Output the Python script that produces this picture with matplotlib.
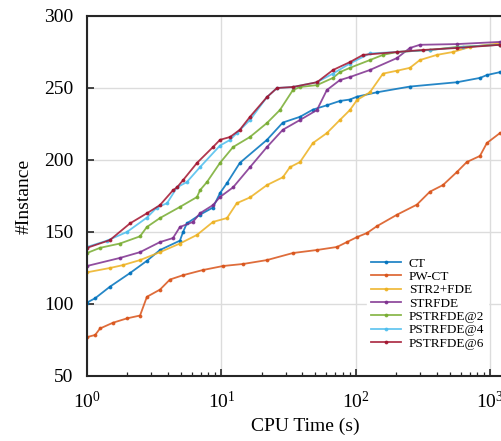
import matplotlib
matplotlib.use("Agg")
import matplotlib.pyplot as plt
from matplotlib.ticker import LogLocator, NullFormatter

# solved-instance curves (CPU seconds, #instances)
ct_t = [1, 1.15, 1.48, 2.09, 2.79, 3.49, 4.91, 5.18, 5.53, 6.92, 8.65, 9.75, 11.0, 13.7,
        21.8, 28.6, 38.4, 47.9, 60.8, 76.0, 90.2, 102, 143, 252, 564, 836, 942, 1178]
ct_n = [101, 104, 112, 121.5, 130, 137.5, 144, 150, 156, 162, 167, 177, 184, 198,
        214, 226, 230, 235, 238, 241, 242, 244, 247, 251, 254, 257, 259, 261]

pwct_t = [1, 1.15, 1.25, 1.56, 1.98, 2.48, 2.79, 3.49, 4.14, 5.18, 7.28, 10.3, 14.5, 21.8,
          34.0, 51.3, 72.3, 85.7, 102, 121, 143, 202, 284, 355, 444, 564, 668, 836, 942, 1178]
pwct_n = [77, 78.5, 83, 87, 90, 92, 105, 110, 117, 120, 123.6, 126.4, 127.8, 130.5,
          135.4, 137.5, 139.6, 143, 146.5, 149.3, 154, 162, 169, 178, 182.6, 191.7, 198.6,
          202.8, 211.8, 218.7]

str2_t = [1, 1.48, 1.85, 2.48, 3.49, 4.91, 6.58, 8.65, 11.0, 13.0, 16.3, 21.8, 28.6, 32.3,
          38.4, 47.9, 60.8, 76.0, 90.2, 102, 127, 159, 202, 252, 299, 400, 526, 705, 1178]
str2_n = [122, 125, 127, 130.5, 136, 142, 148, 157, 159.7, 170, 174, 182.6, 188, 195,
          198.6, 211.8, 218.7, 227.8, 234.7, 241.7, 247, 260, 262, 264, 269.4, 273, 275,
          278.5, 281]

strfde_t = [1, 1.76, 2.48, 3.49, 4.36, 4.91, 6.14, 6.92, 8.65, 9.75, 12.2, 16.3, 21.8,
            28.6, 38.4, 51.3, 60.8, 76.0, 90.2, 127, 202, 252, 299, 564, 1178]
strfde_n = [126.4, 132, 136, 143, 145.8, 153.5, 157, 163, 168.7, 174.3, 181, 195, 209,
            221, 227.8, 234.7, 248.6, 255.5, 257.6, 262.5, 270.8, 277.8, 280, 280.5, 282]

p2_t = [1, 1.25, 1.76, 2.48, 2.79, 3.49, 4.91, 6.58, 6.92, 7.80, 9.75, 12.2, 16.3, 21.8,
        27.2, 34.0, 38.4, 51.3, 67.5, 76.0, 90.2, 127, 159, 202, 355, 564, 1178]
p2_n = [135.4, 139, 142, 147, 153.5, 159.7, 167.4, 174.3, 179, 184.7, 198, 209, 216, 225.7,
        234.7, 248.6, 250.7, 252, 257, 261, 264, 269.4, 273, 275, 276.4, 278.5, 280]

p4_t = [1, 1.41, 1.98, 2.79, 3.31, 3.94, 4.67, 5.53, 6.92, 9.75, 11.6, 13.0, 16.3, 21.8,
        25.9, 34.0, 51.3, 67.5, 90.2, 127, 202, 355, 625, 1178]
p4_n = [139.6, 144, 150, 160, 167, 170, 181, 184.7, 195, 210, 214, 218.7, 227.8, 243.7,
        250, 250.7, 254, 260, 267, 274, 275, 276.4, 278.5, 280]

p6_t = [1, 1.48, 2.09, 2.79, 3.49, 4.36, 4.67, 5.18, 6.58, 8.65, 9.75, 11.6, 13.7, 16.3,
        21.8, 25.9, 34.0, 51.3, 67.5, 90.2, 113, 202, 315, 564, 1178]
p6_n = [139, 144.4, 156, 163, 168.7, 179, 181, 186, 198, 209, 214, 216, 221, 230,
        243.7, 250, 250.7, 254, 262.5, 268, 273, 275, 276.4, 277.8, 280]

labels = ["CT", "PW-CT", "STR2+FDE", "STRFDE", "PSTRFDE@2", "PSTRFDE@4", "PSTRFDE@6"]
times = [ct_t, pwct_t, str2_t, strfde_t, p2_t, p4_t, p6_t]
counts = [ct_n, pwct_n, str2_n, strfde_n, p2_n, p4_n, p6_n]
colors = ["#0072BD", "#D95319", "#EDB120", "#7E2F8E", "#77AC30", "#4DBEEE", "#A2142F"]

plt.rcParams["font.family"] = ["Liberation Serif", "DejaVu Serif"]
plt.rcParams["mathtext.fontset"] = "stix"

fig = plt.figure(figsize=(5.01, 4.41), dpi=100)
ax = fig.add_axes([87 / 501, 65 / 441, 437 / 501, 360 / 441])

for t, n, c, lab in zip(times, counts, colors, labels):
    ax.plot(t, n, color=c, lw=1.3, marker=".", ms=3.5, alpha=0.85, label=lab)

ax.set_xscale("log")
ax.set_xlim(1, 10 ** 3.25)
ax.set_ylim(50, 300)
ax.set_yticks([50, 100, 150, 200, 250, 300])
ax.xaxis.set_major_locator(LogLocator(base=10, numticks=10))
ax.xaxis.set_minor_locator(LogLocator(base=10, subs=range(2, 10), numticks=20))
ax.xaxis.set_minor_formatter(NullFormatter())

ax.grid(True, which="major", color="#dcdcdc", lw=1.0)
ax.set_axisbelow(True)
ax.tick_params(axis="both", which="both", direction="in", labelsize=14, color="#262626")
ax.tick_params(axis="both", which="major", length=5, width=1.2)
ax.tick_params(axis="x", which="minor", length=3, width=0.9)
ax.tick_params(axis="x", which="both", pad=11, top=False)
ax.tick_params(axis="y", which="both", pad=10, right=False)
for side in ["left", "bottom", "top"]:
    ax.spines[side].set_color("#262626")
    ax.spines[side].set_linewidth(1.5)
ax.spines["right"].set_visible(False)

ax.set_xlabel("CPU Time (s)", fontsize=14, labelpad=4)
ax.set_ylabel("#Instance", fontsize=14, labelpad=8)

ax.legend(loc="upper left", bbox_to_anchor=(360 / 501, 1 - 247 / 441),
          bbox_transform=fig.transFigure, fontsize=9.5, frameon=True,
          edgecolor="white", facecolor="white", framealpha=1.0, fancybox=False,
          handlelength=2.3, handletextpad=0.6, labelspacing=0.08, borderpad=0.3)

fig.savefig("out.png", dpi=100)
